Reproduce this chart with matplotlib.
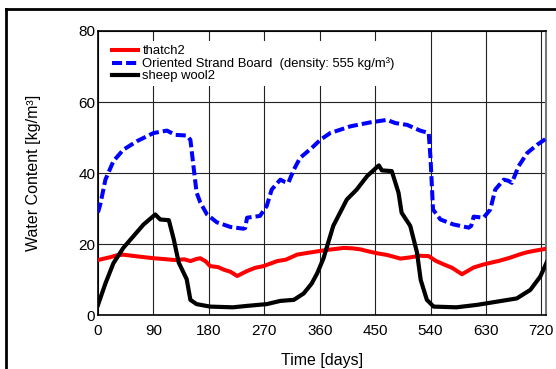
import numpy as np
import matplotlib
matplotlib.use('Agg')
import matplotlib.pyplot as plt
from matplotlib.lines import Line2D

plt.rcParams['font.family'] = ['Liberation Sans', 'DejaVu Sans']

# thatch2
thatch_days = [0, 10, 20, 30, 41, 55, 70, 90, 105, 124, 140, 150, 160, 166, 175, 182,
               195, 204, 215, 226, 235, 242, 255, 269, 280, 291, 305, 323, 340, 355,
               370, 385, 399, 412, 426, 440, 453, 470, 491, 505, 523, 537, 548, 561,
               575, 591, 600, 610, 625, 637, 652, 670, 685, 697, 712, 729]
thatch_vals = [15.6, 16.0, 16.4, 16.9, 17.1, 16.8, 16.5, 16.1, 15.9, 15.6, 15.8, 15.3, 15.9, 16.1, 15.2, 13.9,
               13.6, 12.9, 12.3, 11.1, 11.9, 12.5, 13.4, 13.9, 14.6, 15.3, 15.7, 17.1, 17.6, 18.0,
               18.4, 18.7, 19.0, 18.9, 18.6, 18.0, 17.5, 17.0, 16.0, 16.3, 16.8, 16.7, 15.4, 14.4,
               13.4, 11.6, 12.5, 13.5, 14.3, 14.8, 15.4, 16.3, 17.2, 17.8, 18.3, 18.8]

# Oriented Strand Board
osb_days = [0, 4, 12, 25, 41, 63, 90, 112, 125, 144, 150, 155, 160, 166, 177, 193,
            215, 236, 239, 242, 263, 274, 282, 296, 303, 309, 318, 328, 347, 361,
            377, 410, 442, 469, 483, 502, 523, 537, 540, 544, 556, 577, 602, 606,
            610, 626, 637, 645, 659, 666, 672, 683, 697, 713, 729]
osb_vals = [29.0, 31.5, 38.2, 43.4, 46.6, 49.0, 51.3, 52.0, 50.8, 50.6, 49.4, 42.0, 34.6, 31.8, 28.4, 26.2,
            24.9, 24.4, 24.6, 27.5, 28.0, 30.8, 35.4, 38.2, 37.6, 37.3, 41.0, 44.3, 47.1, 49.4,
            51.3, 53.2, 54.3, 55.0, 54.1, 53.6, 52.0, 51.3, 44.0, 29.8, 27.0, 25.6, 24.7, 25.2,
            27.8, 27.5, 29.8, 35.4, 38.2, 37.9, 37.3, 42.0, 45.7, 48.0, 49.9]

# sheep wool2
wool_days = [0, 12, 25, 41, 58, 74, 93, 101, 115, 123, 131, 144, 150, 160, 182, 219,
             242, 274, 296, 318, 334, 347, 356, 366, 382, 404, 420, 437, 456, 461,
             477, 488, 493, 507, 518, 524, 534, 545, 582, 616, 648, 680, 702, 718, 729]
wool_vals = [3.0, 9.0, 14.7, 19.0, 22.4, 25.6, 28.4, 27.0, 26.8, 21.4, 14.9, 10.2, 4.4, 3.2, 2.5, 2.3,
             2.7, 3.2, 4.1, 4.4, 6.2, 9.0, 11.9, 16.0, 25.2, 32.6, 35.4, 39.2, 42.2, 40.8,
             40.6, 34.5, 28.9, 25.2, 17.7, 10.0, 4.4, 2.5, 2.3, 3.0, 3.9, 4.8, 7.2, 10.9, 15.1]

x_ticks = [0, 90, 180, 270, 360, 450, 540, 630, 720]
y_ticks = [0, 20, 40, 60, 80]

fig = plt.figure(figsize=(5.56, 3.69), dpi=100)
ax = fig.add_axes([0.1763, 0.145, 0.9815 - 0.1763, 0.916 - 0.145])

# outer frame (only left and top edges visible in the crop)
fig.add_artist(Line2D([6 / 556, 6 / 556], [0, 1 - 9 / 369], transform=fig.transFigure,
                      color='black', lw=2))
fig.add_artist(Line2D([6 / 556, 1], [1 - 9 / 369, 1 - 9 / 369], transform=fig.transFigure,
                      color='black', lw=2))

ax.plot(thatch_days, thatch_vals, color='#ff0000', lw=2.9, label='thatch2', zorder=3)
ax.plot(osb_days, osb_vals, color='#0000ff', lw=2.9, dashes=(2.5, 1.0),
        label='Oriented Strand Board  (density: 555 kg/m³)', zorder=3)
ax.plot(wool_days, wool_vals, color='black', lw=3.0, label='sheep wool2', zorder=3)

ax.set_xlim(0, 727)
ax.set_ylim(0, 80)
ax.set_xticks(x_ticks)
ax.set_yticks(y_ticks)
ax.grid(True, color='#222222', lw=0.8)
ax.set_axisbelow(True)
ax.tick_params(length=0, labelsize=11)
ax.tick_params(axis='x', pad=6)
ax.tick_params(axis='y', pad=2)

for side in ['left', 'bottom', 'top']:
    ax.spines[side].set_color('black')
    ax.spines[side].set_linewidth(1.2)
ax.spines['right'].set_color('#777777')
ax.spines['right'].set_linewidth(1.5)

ax.set_xlabel('Time [days]', fontsize=11.5, labelpad=11)
ax.set_ylabel('Water Content [kg/m³]', fontsize=11.5, labelpad=27)

leg = ax.legend(loc='upper left', fontsize=9.4, handlelength=2.0, handletextpad=0.3,
                labelspacing=0.0, borderpad=0.3, borderaxespad=0.8,
                frameon=True, fancybox=False, framealpha=1)
leg.get_frame().set_edgecolor('white')
leg.get_frame().set_linewidth(0)

fig.savefig('out.png', dpi=100)
